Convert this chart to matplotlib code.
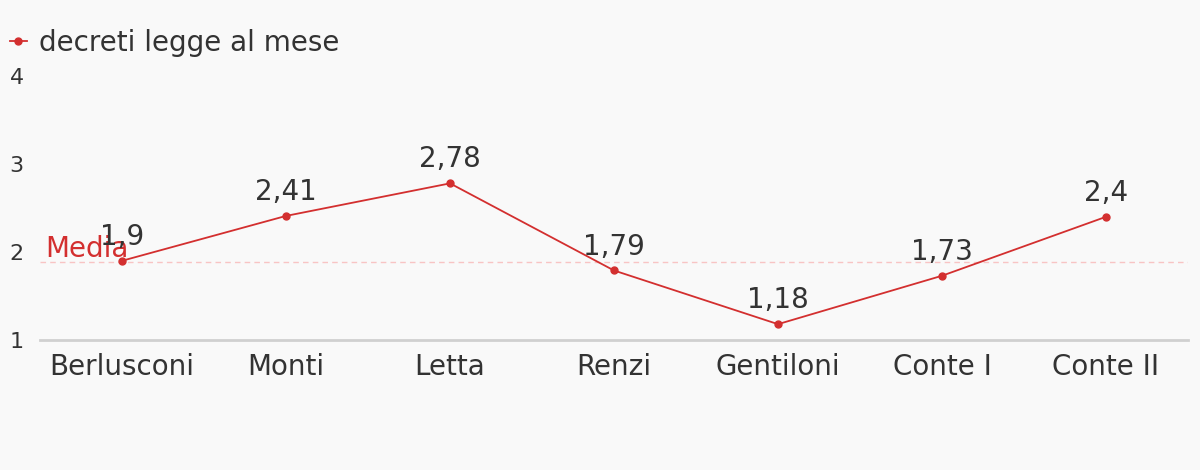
import matplotlib
matplotlib.use("Agg")
import matplotlib.pyplot as plt
from matplotlib.lines import Line2D

# dati
governi = ["Berlusconi", "Monti", "Letta", "Renzi", "Gentiloni", "Conte I", "Conte II"]
decreti_mese = [1.9, 2.41, 2.78, 1.79, 1.18, 1.73, 2.4]
etichette = ["1,9", "2,41", "2,78", "1,79", "1,18", "1,73", "2,4"]
media = 1.89
y_ticks = [1, 2, 3, 4]

ROSSO = "#d32f2f"
TESTO = "#333333"
SFONDO = "#f9f9f9"

fig = plt.figure(figsize=(12, 4.7), dpi=100, facecolor=SFONDO)
ax = fig.add_axes([40 / 1200, (470 - 340) / 470, 1148 / 1200, (340 - 76) / 470])
ax.set_facecolor(SFONDO)

x = list(range(len(governi)))
ax.plot(x, decreti_mese, color=ROSSO, lw=1.3, marker="o", ms=5, zorder=3)
ax.axhline(media, color="#f8c4c4", lw=1, ls=(0, (4, 3)), zorder=1)
ax.annotate("Media", (-0.47, media), xytext=(0, 3.5), textcoords="offset points",
            color=ROSSO, fontsize=20, ha="left", va="baseline")

for xi, v, lab in zip(x, decreti_mese, etichette):
    ax.annotate(lab, (xi, v), xytext=(0, 11.5), textcoords="offset points",
                ha="center", va="baseline", fontsize=20, color=TESTO)

ax.set_xlim(-0.5, len(governi) - 0.5)
ax.set_ylim(1, 4)
ax.set_xticks(x)
ax.set_xticklabels(governi, fontsize=20, color=TESTO)
ax.set_yticks(y_ticks)
ax.set_yticklabels([str(t) for t in y_ticks], fontsize=16, color=TESTO)
ax.tick_params(axis="both", length=0)
ax.tick_params(axis="x", pad=9.5)
ax.tick_params(axis="y", pad=22)
for lab in ax.get_yticklabels():
    lab.set_horizontalalignment("left")

for s in ["top", "right", "left"]:
    ax.spines[s].set_visible(False)
ax.spines["bottom"].set_color("#d0d0d0")
ax.spines["bottom"].set_linewidth(2)

handle = Line2D([], [], color=ROSSO, marker="o", ms=5, lw=1.3)
fig.legend([handle], ["decreti legge al mese"], loc="upper left",
           bbox_to_anchor=(-0.008, 0.98), frameon=False, fontsize=20,
           handlelength=0.6, handletextpad=0.45, labelcolor=TESTO,
           borderaxespad=0.3)

fig.savefig("out.png", dpi=100, facecolor=SFONDO)
